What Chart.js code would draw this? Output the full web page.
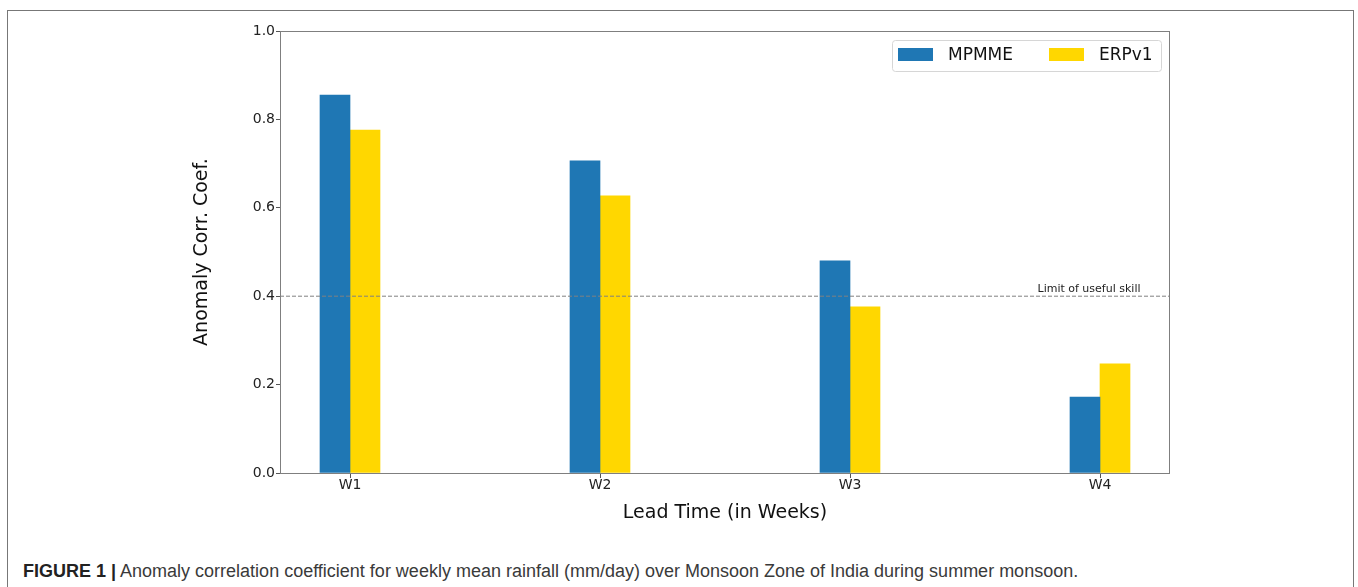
<!DOCTYPE html>
<html>
<head>
<meta charset="utf-8">
<script src="https://cdn.jsdelivr.net/npm/chart.js@4.4.0/dist/chart.umd.min.js"></script>
<style>
    html, body { margin: 0; padding: 0; background: #fff; }
    body { width: 1358px; height: 587px; position: relative; overflow: hidden; }
    #frame { position: absolute; left: 7px; top: 10px; width: 1347px; height: 620px; border: 1px solid #777; box-sizing: border-box; }
    #chartCanvas { position: absolute; left: 0; top: 0; }
    #caption { position: absolute; left: 23px; top: 562px; font-family: "Liberation Sans", Arial, sans-serif; font-size: 18px; line-height: 18px; color: #3a3a3a; white-space: nowrap; }
    #caption b { color: #222; }
</style>
</head>
<body>
<div id="frame"></div>
<canvas id="chartCanvas" width="1358" height="540"></canvas>
<div id="caption"><b>FIGURE 1 |</b> Anomaly correlation coefficient for weekly mean rainfall (mm/day) over Monsoon Zone of India during summer monsoon.</div>
<script>
const semanas = ['W1', 'W2', 'W3', 'W4'];
const valoresMPMME = [0.855, 0.706, 0.480, 0.172];
const valoresERPv1 = [0.776, 0.627, 0.376, 0.247];
const limiteUtil = 0.4;
const textoLimite = 'Limit of useful skill';

const FUENTE = 'DejaVu Sans';

function aPuntos(valores) {
    return valores.map((v, i) => ({ x: i, y: v }));
}

// linea de referencia y su texto, por encima de las barras
const lineaLimite = {
    id: 'lineaLimite',
    afterDatasetsDraw(chart) {
        const { ctx, chartArea, scales } = chart;
        const y = scales.y.getPixelForValue(limiteUtil);
        ctx.save();
        ctx.strokeStyle = '#808080';
        ctx.lineWidth = 1;
        ctx.setLineDash([4, 2]);
        ctx.beginPath();
        ctx.moveTo(chartArea.left, y);
        ctx.lineTo(chartArea.right, y);
        ctx.stroke();
        ctx.setLineDash([]);
        ctx.fillStyle = '#222';
        ctx.font = '11px "' + FUENTE + '"';
        ctx.textAlign = 'left';
        ctx.textBaseline = 'alphabetic';
        ctx.fillText(textoLimite, scales.x.getPixelForValue(2.75), y - 4);
        ctx.restore();
    }
};

// marco completo del area de trazado y leyenda al estilo matplotlib
const marcoYLeyenda = {
    id: 'marcoYLeyenda',
    afterDraw(chart) {
        const { ctx, chartArea } = chart;
        ctx.save();
        ctx.strokeStyle = '#7f7f7f';
        ctx.lineWidth = 1;
        ctx.strokeRect(chartArea.left + 0.5, chartArea.top + 0.5,
            chartArea.right - chartArea.left - 1, chartArea.bottom - chartArea.top);

        const x0 = chartArea.right - 278, y0 = chartArea.top + 9;
        const w = 269, h = 31;
        ctx.beginPath();
        ctx.roundRect(x0 + 0.5, y0 + 0.5, w, h, 3);
        ctx.fillStyle = 'rgba(255,255,255,0.8)';
        ctx.fill();
        ctx.strokeStyle = '#d6d6d6';
        ctx.stroke();

        ctx.font = '17px "' + FUENTE + '"';
        ctx.textBaseline = 'middle';
        ctx.textAlign = 'left';
        const posiciones = [x0 + 6, x0 + 157];
        chart.data.datasets.forEach((ds, i) => {
            const sx = posiciones[i];
            ctx.fillStyle = ds.backgroundColor;
            ctx.fillRect(sx, y0 + 8, 35, 13);
            ctx.fillStyle = '#111';
            ctx.fillText(ds.label, sx + 50, y0 + 15.5);
        });
        ctx.restore();
    }
};

document.addEventListener('DOMContentLoaded', function() {
    const ctx = document.getElementById('chartCanvas').getContext('2d');
    new Chart(ctx, {
        type: 'bar',
        data: {
            datasets: [
                {
                    label: 'MPMME',
                    data: aPuntos(valoresMPMME),
                    backgroundColor: '#1f77b4',
                    barThickness: 30
                },
                {
                    label: 'ERPv1',
                    data: aPuntos(valoresERPv1),
                    backgroundColor: '#ffd700',
                    barThickness: 30
                }
            ]
        },
        options: {
            responsive: false,
            animation: false,
            devicePixelRatio: 1,
            layout: { padding: { left: 180, top: 31, right: 188, bottom: 7 } },
            plugins: {
                legend: { display: false },
                tooltip: { enabled: false }
            },
            scales: {
                x: {
                    type: 'linear',
                    min: -0.28,
                    max: 3.28,
                    offset: false,
                    afterBuildTicks: s => { s.ticks = semanas.map((w, i) => ({ value: i })); },
                    afterFit: s => { s.height = 60; },
                    border: { display: false },
                    grid: { display: true, offset: false, drawOnChartArea: false, drawTicks: true, tickLength: 5, color: '#555' },
                    ticks: {
                        autoSkip: false,
                        maxRotation: 0,
                        padding: 0,
                        color: '#222',
                        font: { family: FUENTE, size: 14, lineHeight: 1 },
                        callback: v => semanas[v]
                    },
                    title: {
                        display: true,
                        text: 'Lead Time (in Weeks)',
                        color: '#111',
                        font: { family: FUENTE, size: 19 },
                        padding: { top: 0, bottom: 8.6 }
                    }
                },
                y: {
                    min: 0,
                    max: 1,
                    afterFit: s => { s.width = 100; },
                    border: { display: false },
                    grid: { display: true, drawOnChartArea: false, drawTicks: true, tickLength: 4, color: '#555' },
                    ticks: {
                        stepSize: 0.2,
                        padding: 1,
                        color: '#222',
                        font: { family: FUENTE, size: 14 },
                        callback: v => v.toFixed(1)
                    },
                    title: {
                        display: true,
                        text: 'Anomaly Corr. Coef.',
                        color: '#111',
                        font: { family: FUENTE, size: 19 },
                        padding: { top: 10.6, bottom: 0 }
                    }
                }
            }
        },
        plugins: [lineaLimite, marcoYLeyenda]
    });
});
</script>
</body>
</html>
